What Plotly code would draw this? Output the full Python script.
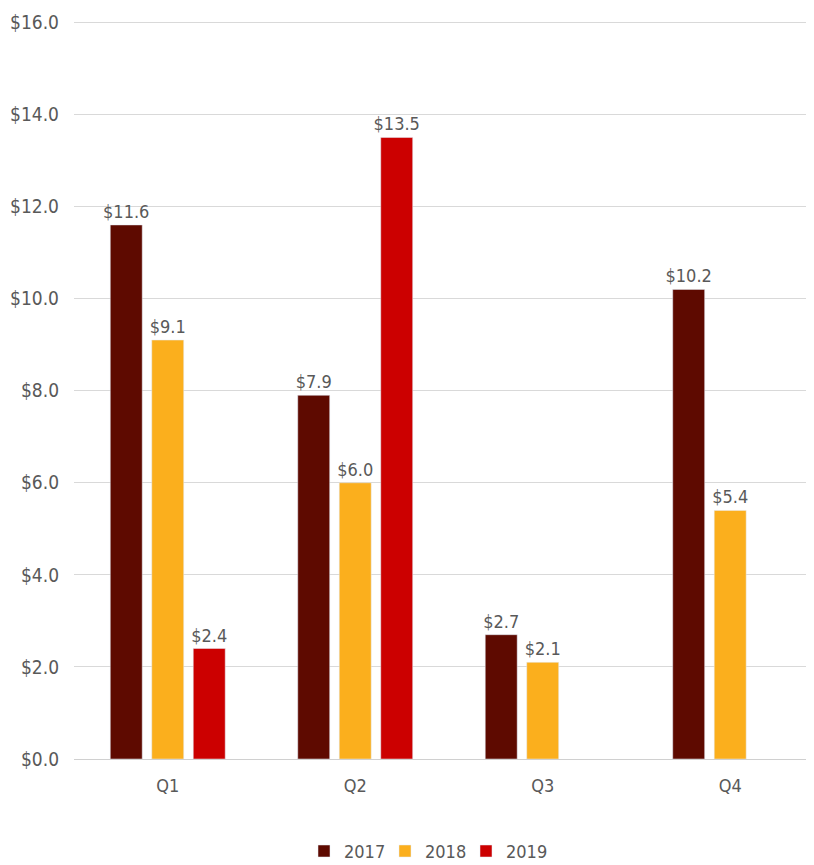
import plotly.graph_objects as go

quarters = ["Q1", "Q2", "Q3", "Q4"]
series_names = ["2017", "2018", "2019"]
values_2017 = [11.6, 7.9, 2.7, 10.2]
values_2018 = [9.1, 6.0, 2.1, 5.4]
values_2019 = [2.4, 13.5, None, None]
colors = ["#5E0A00", "#FBAF1D", "#CC0000"]
y_ticks = [0, 2, 4, 6, 8, 10, 12, 14, 16]

FONT = "DejaVu Sans Condensed, sans-serif"
GRAY = "#595959"

fig = go.Figure()
for name, vals, col in zip(series_names, [values_2017, values_2018, values_2019], colors):
    fig.add_trace(go.Bar(
        x=quarters, y=vals, name=name, marker_color=col,
        texttemplate="$%{y:.1f}", textposition="outside",
        textfont=dict(family=FONT, size=18, color=GRAY),
        cliponaxis=False,
    ))

fig.update_layout(
    width=814, height=865,
    margin=dict(l=66, r=8, t=13, b=114, autoexpand=False),
    paper_bgcolor="white", plot_bgcolor="white",
    barmode="group", bargap=0.336, bargroupgap=0.23,
    uniformtext=dict(minsize=18, mode="show"),
    font=dict(family=FONT, size=18, color=GRAY),
    showlegend=True,
    legend=dict(orientation="h", x=0.475, xanchor="center", y=-0.1, yanchor="top",
                font=dict(family=FONT, size=18, color=GRAY), itemwidth=30,
                entrywidth=36, entrywidthmode="pixels",
                traceorder="normal"),
    xaxis=dict(range=[-0.5, 3.447], showgrid=False, showline=False, ticks="",
               ticklabelstandoff=14,
               tickfont=dict(family=FONT, size=18, color=GRAY)),
    yaxis=dict(range=[0, 16.03], tickvals=y_ticks, tickformat="$.1f",
               showgrid=True, gridcolor="#D9D9D9", gridwidth=1,
               zeroline=True, zerolinecolor="#D0D0D0", zerolinewidth=1,
               showline=False, ticks="", ticklabelstandoff=14,
               tickfont=dict(family=FONT, size=19, color=GRAY)),
)

fig.write_html("out.html")
